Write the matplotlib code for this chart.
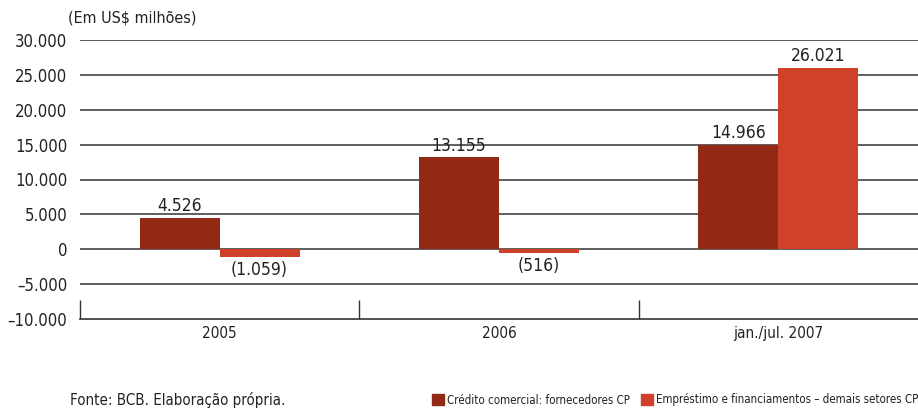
import numpy as np
import matplotlib.pyplot as plt
from matplotlib.patches import Patch

plt.rcParams['font.family'] = ['DejaVu Sans']
plt.rcParams['font.stretch'] = 'condensed'
plt.rcParams['text.color'] = '#222222'
plt.rcParams['xtick.color'] = '#222222'
plt.rcParams['ytick.color'] = '#222222'

# Dados (US$ milhões)
periodos = ['2005', '2006', 'jan./jul. 2007']
credito_comercial = [4526, 13155, 14966]
emprestimos = [-1059, -516, 26021]
nomes_series = ['Crédito comercial: fornecedores CP',
                'Empréstimo e financiamentos – demais setores CP']
yticks = [-10000, -5000, 0, 5000, 10000, 15000, 20000, 25000, 30000]

cor_escura = '#922915'
cor_clara = '#D0412A'


def fmt(v):
    s = f'{abs(v):,}'.replace(',', '.')
    return s


fig = plt.figure(figsize=(9.18, 4.09), dpi=100)
ax = fig.add_axes([80 / 918, 1 - 319 / 409, 1 - 80 / 918, 279 / 409])

x = np.arange(len(periodos))
w = 0.286
b1 = ax.bar(x - w / 2, credito_comercial, w, color=cor_escura, zorder=3)
b2 = ax.bar(x + w / 2, emprestimos, w, color=cor_clara, zorder=3)

# rótulos de valor
for barras, vals in [(b1, credito_comercial), (b2, emprestimos)]:
    for r, v in zip(barras, vals):
        cx = r.get_x() + r.get_width() / 2
        if v >= 0:
            ax.annotate(fmt(v), (cx, v), xytext=(0, 2), textcoords='offset points',
                        ha='center', va='bottom', fontsize=12.5)
        else:
            ax.annotate(f'({fmt(v)})', (cx, v), xytext=(0, -3), textcoords='offset points',
                        ha='center', va='top', fontsize=12.5)

ax.set_xlim(-0.5, 2.5)
ax.set_ylim(-10000, 30000)

# linhas horizontais
for yv in yticks[1:]:
    ax.axhline(yv, color='#333333', lw=1.1, zorder=2)

ax.set_yticks(yticks)
ax.set_yticklabels([('–' if v < 0 else '') + fmt(v) for v in yticks], fontsize=12)
ax.tick_params(axis='y', length=0, pad=9)

ax.set_xticks(x)
ax.set_xticklabels(periodos, fontsize=11)
ax.tick_params(axis='x', which='major', length=0, pad=5)
ax.set_xticks([-0.5, 0.5, 1.5], minor=True)
ax.tick_params(axis='x', which='minor', direction='in', length=14, width=1, color='#333333')

for s in ['top', 'right', 'left']:
    ax.spines[s].set_visible(False)
ax.spines['bottom'].set_linewidth(1.2)
ax.spines['bottom'].set_color('#333333')

fig.text(68 / 918, 1 - 18 / 409, '(Em US$ milhões)', fontsize=11.5, va='center', ha='left')
fig.text(70 / 918, 1 - 400 / 409, 'Fonte: BCB. Elaboração própria.', fontsize=10.8,
         va='center', ha='left')

handles = [Patch(color=cor_escura), Patch(color=cor_clara)]
fig.legend(handles, nomes_series, loc='center right', bbox_to_anchor=(1.0, 1 - 400 / 409),
           ncol=2, frameon=False, fontsize=8.3, handlelength=1.05, handleheight=1.05,
           handletextpad=0.2, columnspacing=1.0, borderaxespad=0, borderpad=0)

fig.savefig('out.png', dpi=100)
